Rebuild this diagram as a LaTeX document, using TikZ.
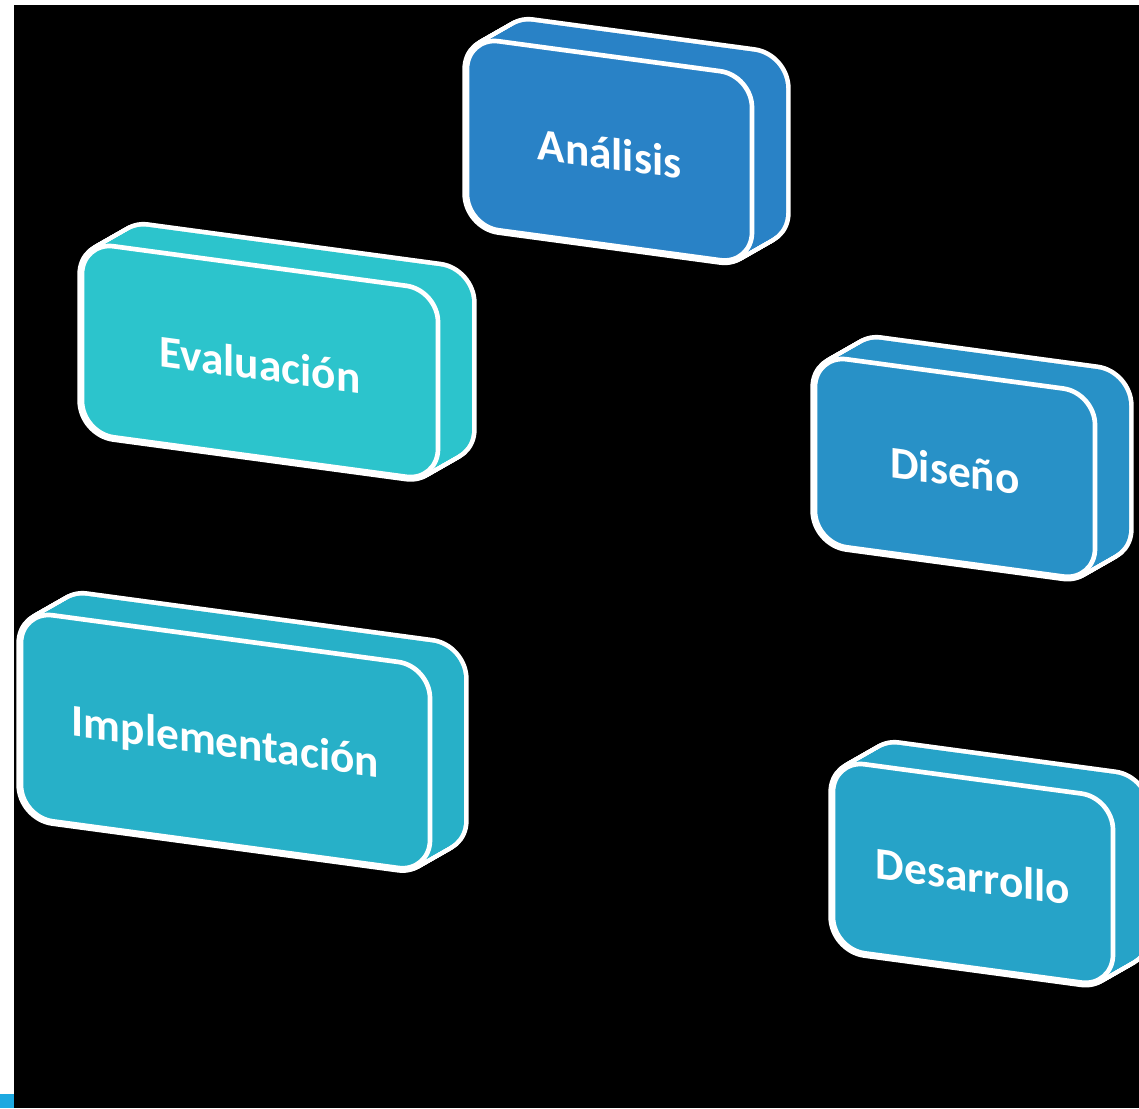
\documentclass[tikz,border=0pt]{standalone}
\usepackage{fontspec}
\setmainfont{Carlito}
\definecolor{cA}{RGB}{41,130,198}
\definecolor{cD}{RGB}{40,145,199}
\definecolor{cDe}{RGB}{38,163,200}
\definecolor{cI}{RGB}{39,176,200}
\definecolor{cE}{RGB}{44,196,204}
\definecolor{cSq}{RGB}{29,169,225}
\tikzset{
  edgeline/.style={draw=white, line width=7pt, rounded corners=24pt},
  bodyfill/.style={rounded corners=24pt},
  facebox/.style={draw=white, line width=3.5pt, rounded corners=24pt},
  lbl/.style={transform shape, text=white, font=\bfseries\fontsize{34}{40}\selectfont, inner sep=0pt, yshift=-2pt}
}
\newcommand\cajabloque[7]{%
  \begin{scope}[shift={(#1,#2)}, yslant=-0.135]
    \foreach \t in {0,0.04,...,1.001}
      \draw[edgeline] ([shift={(\t*34,-\t*24)}]0,0) rectangle ++(#3,#4);
    \foreach \t in {0,0.04,...,1.001}
      \fill[bodyfill, #5] ([shift={(\t*34,-\t*24)}]0,0) rectangle ++(#3,#4);
    \filldraw[facebox, fill=#5] (0,0) rectangle (#3,#4);
    \node[lbl] (#6) at ({#3/2},{#4/2}) {#7};
  \end{scope}}
\begin{document}
\begin{tikzpicture}[x=0.75pt,y=-0.75pt]
\useasboundingbox (0,0) rectangle (1139,1108);
\fill[white] (0,0) rectangle (1139,1108);
\fill[black] (14,5) rectangle (1139,1108);
\fill[cSq] (0,1094) rectangle (14,1108);
\clip (14,5) rectangle (1139,1108);
\cajabloque{467}{37}{285}{189}{cA}{analisis}{Análisis}
\cajabloque{82}{242}{356}{191}{cE}{evaluacion}{Evaluación}
\cajabloque{815}{355}{280}{188}{cD}{diseno}{Diseño}
\cajabloque{21}{611}{409}{206}{cI}{implementacion}{Implementación}
\cajabloque{833}{760}{280}{189}{cDe}{desarrollo}{Desarrollo}
\end{tikzpicture}
\end{document}
